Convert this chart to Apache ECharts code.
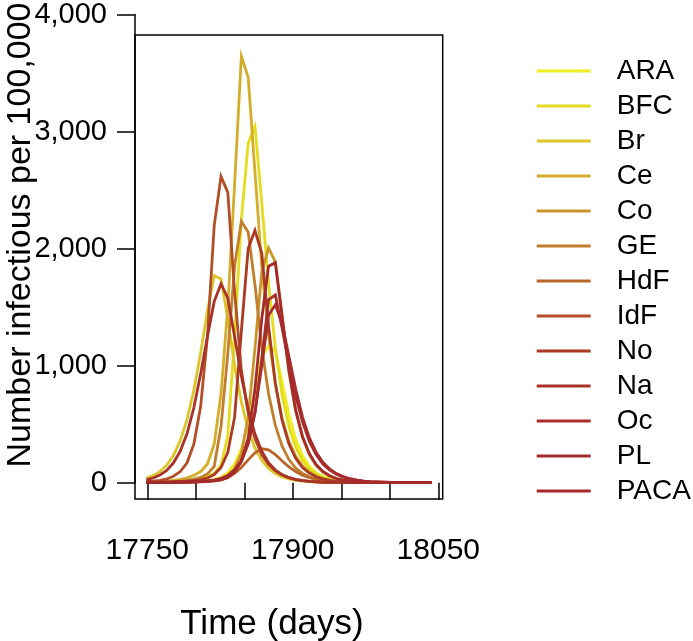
<!DOCTYPE html>
<html>
<head>
<meta charset="utf-8">
<script src="https://cdn.jsdelivr.net/npm/echarts@6/dist/echarts.min.js"></script>
<style>html,body{margin:0;padding:0;background:#fff}#c{width:693px;height:641px}</style>
</head>
<body>
<div id="c"></div>
<script>
// ---- data ----
const regions = ['ARA','BFC','Br','Ce','Co','GE','HdF','IdF','No','Na','Oc','PL','PACA'];
const colors = ['#EEEE22','#E4DC1E','#DCC62A','#D4AE2A','#CA962C','#C27E2C','#BA662A','#B24E28','#AA3A24','#A83228','#A82E2C','#A62C2E','#A52A2A'];
const days = [17749,17756,17763,17770,17777,17784,17791,17798,17805,17812,17819,17826,17833,17840,17847,17854,17861,17868,17875,17882,17889,17896,17903,17910,17917,17924,17931,17938,17945,17952,17959,17966,17973,17980,17987,17994,18001,18008,18015,18022,18029,18036,18043];
const ARA  = [3,3,4,5,6,7,9,11,14,18,26,45,85,160,290,500,780,1080,1167,1124,860,580,370,230,140,85,52,32,20,12,8,5,3,2,1,1,1,0,0,0,0,0,0];
const BFC  = [4,5,6,8,10,13,17,23,32,50,80,150,400,1250,2250,2900,3046,2390,1700,1150,750,480,305,190,118,73,45,28,17,11,7,4,3,2,1,1,1,0,0,0,0,0,0];
const Br   = [40,60,95,150,235,360,540,790,1110,1470,1768,1740,1400,1000,690,455,295,190,122,78,50,32,21,14,9,6,4,3,2,1,1,1,0,0,0,0,0,0,0,0,0,0,0];
const Ce   = [5,7,10,14,20,29,42,62,95,160,330,760,1500,2550,3644,3463,2650,1850,1260,840,550,355,228,145,92,58,37,23,15,9,6,4,2,1,1,0,0,0,0,0,0,0,0];
const Co   = [2,2,3,3,4,5,6,8,11,16,24,38,65,120,250,560,1150,1800,2005,1887,1420,950,610,385,240,148,91,56,34,21,13,8,5,3,2,1,1,0,0,0,0,0,0];
const GE   = [3,4,5,7,10,14,20,30,45,75,140,480,1100,1850,2232,2141,1690,1160,760,490,312,198,125,79,50,31,19,12,8,5,3,2,1,1,0,0,0,0,0,0,0,0,0];
const HdF  = [1,1,2,2,3,4,5,7,9,12,16,25,45,80,130,195,255,290,280,240,185,135,95,64,42,28,18,12,8,5,3,2,1,1,0,0,0,0,0,0,0,0,0];
const IdF  = [9,13,20,32,55,95,170,330,650,1250,2198,2616,2480,1630,960,595,375,238,155,102,67,44,29,19,12,8,5,3,2,1,1,0,0,0,0,0,0,0,0,0,0,0,0];
const No   = [3,4,5,6,8,10,13,17,25,40,70,130,260,560,1300,2000,2156,1960,1340,850,530,332,208,130,82,51,32,20,12,8,5,3,2,1,1,0,0,0,0,0,0,0,0];
const Na   = [25,40,65,105,170,270,420,640,930,1250,1548,1700,1576,1250,910,625,415,268,170,108,68,43,27,17,11,7,4,3,2,1,1,0,0,0,0,0,0,0,0,0,0,0,0];
const Oc   = [2,2,3,3,4,5,6,8,11,15,22,35,60,110,190,330,600,1050,1562,1604,1320,1010,740,520,355,240,160,108,72,48,32,21,14,9,6,4,3,2,1,1,0,0,0];
const PL   = [2,2,2,3,3,4,5,6,8,11,15,24,45,90,180,340,600,1000,1430,1520,1360,1080,800,560,385,260,175,117,78,52,34,22,14,9,6,4,3,2,1,1,0,0,0];
const PACA = [2,2,3,3,4,5,6,8,10,14,20,32,55,100,190,380,800,1400,1850,1880,1420,960,620,395,250,155,96,59,36,22,14,9,5,3,2,1,1,0,0,0,0,0,0];
const seriesValues = [ARA,BFC,Br,Ce,Co,GE,HdF,IdF,No,Na,Oc,PL,PACA];
const xLabelsShown = [17750,17900,18050];
const yTicks = [0,1000,2000,3000,4000];
const xTitle = 'Time (days)';
const yTitle = 'Number infectious per 100,000';

// ---- chart ----
const FONT = '"Liberation Sans", Arial, Helvetica, sans-serif';
const chart = echarts.init(document.getElementById('c'), null, {renderer:'canvas'});
const series = regions.map((name,i)=>({
  name: name,
  type: 'line',
  xAxisIndex: 0, yAxisIndex: 0,
  showSymbol: false,
  symbol: 'none',
  clip: false,
  smooth: false,
  color: colors[i],
  lineStyle: {width: 2.8, color: colors[i], join: 'miter'},
  emphasis: {disabled: true},
  data: days.map((d,j)=>[d, seriesValues[i][j]])
}));
chart.setOption({
  animation: false,
  backgroundColor: '#fff',
  textStyle: {fontFamily: FONT},
  grid: [
    {left: 147.3, top: 10.7, width: 291, height: 472, show: false, containLabel: false},
    {left: 135, top: 35, width: 307.7, height: 464, show: true, borderColor: '#000', borderWidth: 1.5, backgroundColor: 'transparent'}
  ],
  xAxis: [
    {type: 'value', gridIndex: 0, min: 17750, max: 18050, interval: 50, position: 'bottom', offset: 17.3,
     axisLine: {show: false},
     axisTick: {show: true, length: 17, inside: false, lineStyle: {color: '#000', width: 1.5}},
     splitLine: {show: false},
     axisLabel: {show: true, fontSize: 30, color: '#000', fontFamily: FONT, margin: 36, showMinLabel: true, showMaxLabel: true,
       formatter: v => xLabelsShown.indexOf(v) >= 0 ? String(v) : ''}},
    {type: 'value', gridIndex: 1, show: false, min: 0, max: 1}
  ],
  yAxis: [
    {type: 'value', gridIndex: 0, min: yTicks[0], max: yTicks[yTicks.length-1], interval: 1000, position: 'left', offset: 12.3,
     axisLine: {show: true, lineStyle: {color: '#000', width: 1.5}},
     axisTick: {show: true, length: 18, inside: false, lineStyle: {color: '#000', width: 1.5}},
     splitLine: {show: false},
     axisLabel: {show: true, fontSize: 29, color: '#000', fontFamily: FONT, margin: 28,
       formatter: v => v.toLocaleString('en-US')}},
    {type: 'value', gridIndex: 1, show: false, min: 0, max: 1}
  ],
  legend: {
    show: true, orient: 'vertical', left: 531.7, top: 48.5,
    icon: 'rect', itemWidth: 54, itemHeight: 3, itemGap: 0,
    data: regions,
    textStyle: {fontSize: 28, color: '#000', fontFamily: FONT, lineHeight: 35, padding: [0,0,0,21]},
    selectedMode: false
  },
  graphic: [
    {type: 'text', x: 21, y: 235, rotation: Math.PI/2,
     style: {text: yTitle, font: '34px ' + FONT, fill: '#000', textAlign: 'center', textVerticalAlign: 'middle'}},
    {type: 'text', x: 272, y: 624,
     style: {text: xTitle, font: '35px ' + FONT, fill: '#000', textAlign: 'center', textVerticalAlign: 'middle'}}
  ],
  series: series
});
</script>
</body>
</html>
